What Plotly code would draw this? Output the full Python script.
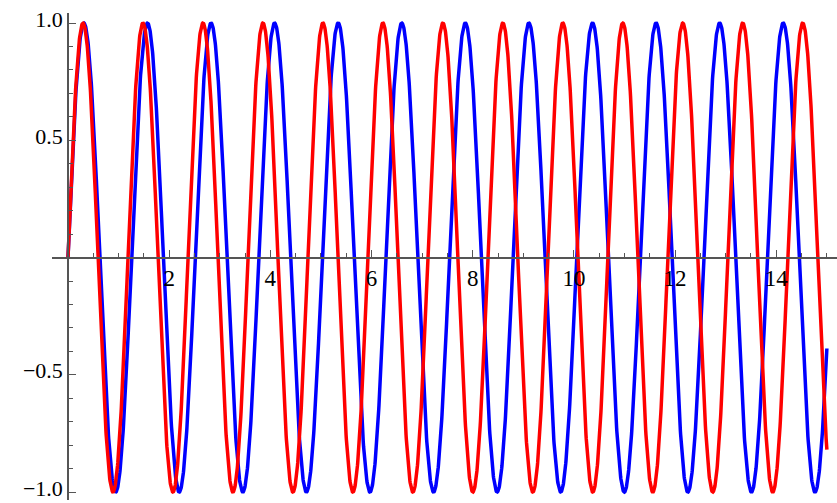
import numpy as np
import plotly.graph_objects as go

series_names = ["sin(5x)", "sin(5.3x)"]
frequencies = [5.0, 5.3]
colors = ["#0000FF", "#FF0000"]
x_start, x_end = 0.0, 15.0

x_tick_vals = [2, 4, 6, 8, 10, 12, 14]
x_tick_text = ["2", "4", "6", "8", "10", "12", "14"]
y_tick_vals = [-1.0, -0.5, 0.5, 1.0]
y_tick_text = ["\u22121.0", "\u22120.5", "0.5", "1.0"]

x_range = [-0.316, 15.2]
y_range = [-1.034, 1.043]

x = np.linspace(x_start, x_end, 3000)

fig = go.Figure()
for name, k, c in zip(series_names, frequencies, colors):
    fig.add_trace(go.Scatter(x=x, y=np.sin(k * x), mode="lines", name=name,
                             line=dict(color=c, width=3.5), hoverinfo="skip"))

family = "Liberation Serif, Times New Roman, serif"
xfont = dict(family=family, size=23, color="#000000")
yfont = dict(family=family, size=22, color="#000000")
axis_color = "#555555"

fig.update_layout(
    width=837, height=503,
    margin=dict(l=52, r=0, t=13, b=3, autoexpand=False),
    paper_bgcolor="white", plot_bgcolor="white",
    showlegend=False,
    font=xfont,
    xaxis=dict(
        range=x_range, showgrid=False, zeroline=False,
        showline=True, linecolor=axis_color, linewidth=1.5,
        anchor="free",
        position=(0 - y_range[0]) / (y_range[1] - y_range[0]),
        tickmode="array", tickvals=x_tick_vals, ticktext=x_tick_text,
        ticks="inside", ticklen=7, tickwidth=1, tickcolor=axis_color,
        minor=dict(dtick=0.5, tick0=0, ticks="inside", ticklen=4, tickwidth=1, tickcolor=axis_color),
        tickfont=xfont, automargin=False, ticklabeloverflow="allow",
    ),
    yaxis=dict(
        range=y_range, showgrid=False, zeroline=False,
        showline=True, linecolor=axis_color, linewidth=1.5,
        anchor="free",
        position=(0 - x_range[0]) / (x_range[1] - x_range[0]),
        tickmode="array", tickvals=y_tick_vals, ticktext=y_tick_text,
        ticks="inside", ticklen=7, tickwidth=1, tickcolor=axis_color,
        minor=dict(dtick=0.1, tick0=0, ticks="inside", ticklen=4, tickwidth=1, tickcolor=axis_color),
        tickfont=yfont, automargin=False, ticklabeloverflow="allow",
        ticklabelshift=-4,
    ),
)

fig.write_html("out.html", config={"displayModeBar": False},
               post_script="document.body.style.margin='0';")
